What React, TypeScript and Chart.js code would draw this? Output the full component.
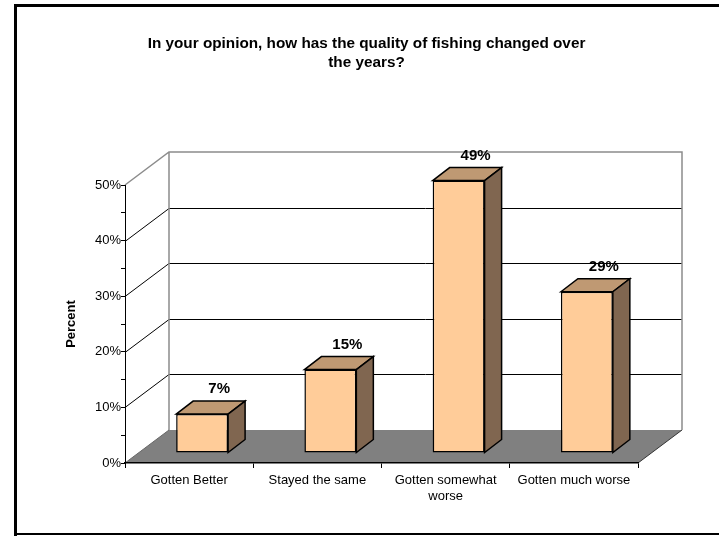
import React, { useEffect, useRef } from 'react';
import { Chart, registerables } from 'chart.js';

Chart.register(...registerables);

// ---- data ----
const categories: (string | string[])[] = [
  'Gotten Better',
  'Stayed the same',
  ['Gotten somewhat', 'worse'],
  'Gotten much worse',
];
const values = [7, 15, 49, 29];
const yTickLabels = [0, 10, 20, 30, 40, 50];
const titleLines = ['In your opinion, how has the quality of fishing changed over', 'the years?'];
const yAxisTitle = 'Percent';

// ---- 3D geometry / style ----
const WALL = { dx: 44, dy: -33 };
const FACE = { dx: 13, dy: -10 };
const DEPTH = { dx: 17, dy: -13 };
const FRONT = '#FFCC99';
const TOP = '#BF9973';
const SIDE = '#806650';
const FLOOR = '#808080';
const WALL_EDGE = '#8c8c8c';
const FONT = "'Liberation Sans', Arial, sans-serif";

const threeD = {
  id: 'threeD',
  beforeDraw(chart: any) {
    const { ctx, chartArea: a, scales } = chart;
    const y = scales.y;
    ctx.save();
    // outer frame
    ctx.fillStyle = '#000';
    ctx.fillRect(14, 4, 705, 3);
    ctx.fillRect(14, 4, 3, 532);
    ctx.fillRect(14, 533, 705, 2);

    const y0 = y.getPixelForValue(y.min);
    const yTop = y.getPixelForValue(y.max);
    const bl = a.left + WALL.dx;
    const br = a.right + WALL.dx;

    // floor
    ctx.fillStyle = FLOOR;
    ctx.beginPath();
    ctx.moveTo(a.left, y0);
    ctx.lineTo(a.right, y0);
    ctx.lineTo(br, y0 + WALL.dy);
    ctx.lineTo(bl, y0 + WALL.dy);
    ctx.closePath();
    ctx.fill();
    ctx.strokeStyle = '#333';
    ctx.lineWidth = 1;
    ctx.beginPath();
    ctx.moveTo(a.right, y0);
    ctx.lineTo(br, y0 + WALL.dy);
    ctx.stroke();

    // gridlines on the side wall and back wall
    ctx.strokeStyle = '#000';
    ctx.lineWidth = 1;
    yTickLabels.forEach((v) => {
      if (v === y.min || v === y.max) return;
      const py = Math.round(y.getPixelForValue(v)) + 0.5;
      ctx.beginPath();
      ctx.moveTo(a.left, py);
      ctx.lineTo(bl, py + WALL.dy);
      ctx.lineTo(br, py + WALL.dy);
      ctx.stroke();
    });

    // wall edges
    ctx.strokeStyle = WALL_EDGE;
    ctx.lineWidth = 1.5;
    ctx.beginPath();
    ctx.moveTo(a.left, yTop);
    ctx.lineTo(bl, yTop + WALL.dy);
    ctx.lineTo(br, yTop + WALL.dy);
    ctx.lineTo(br, y0 + WALL.dy);
    ctx.moveTo(bl, yTop + WALL.dy);
    ctx.lineTo(bl, y0 + WALL.dy);
    ctx.stroke();
    ctx.strokeStyle = '#666';
    ctx.lineWidth = 1;
    ctx.beginPath();
    ctx.moveTo(a.left, y0);
    ctx.lineTo(bl, y0 + WALL.dy);
    ctx.stroke();
    ctx.restore();
  },
  beforeDatasetsDraw(chart: any) {
    chart.ctx.save();
    chart.ctx.translate(FACE.dx, FACE.dy);
  },
  afterDatasetsDraw(chart: any) {
    const { ctx } = chart;
    ctx.restore();
    const meta = chart.getDatasetMeta(0);
    const data = chart.data.datasets[0].data as number[];
    ctx.save();
    ctx.lineJoin = 'miter';
    meta.data.forEach((bar: any, i: number) => {
      const p = bar.getProps(['x', 'y', 'base', 'width'], true);
      const l = p.x - p.width / 2 + FACE.dx;
      const r = p.x + p.width / 2 + FACE.dx;
      const t = p.y + FACE.dy;
      const b = p.base + FACE.dy;
      ctx.lineWidth = 1.5;
      ctx.strokeStyle = '#000';
      // top face
      ctx.fillStyle = TOP;
      ctx.beginPath();
      ctx.moveTo(l, t);
      ctx.lineTo(l + DEPTH.dx, t + DEPTH.dy);
      ctx.lineTo(r + DEPTH.dx, t + DEPTH.dy);
      ctx.lineTo(r, t);
      ctx.closePath();
      ctx.fill();
      ctx.stroke();
      // side face
      ctx.fillStyle = SIDE;
      ctx.beginPath();
      ctx.moveTo(r, t);
      ctx.lineTo(r + DEPTH.dx, t + DEPTH.dy);
      ctx.lineTo(r + DEPTH.dx, b + DEPTH.dy);
      ctx.lineTo(r, b);
      ctx.closePath();
      ctx.fill();
      ctx.stroke();
      // value label
      ctx.fillStyle = '#000';
      ctx.font = `bold 15px ${FONT}`;
      ctx.textAlign = 'center';
      ctx.textBaseline = 'middle';
      ctx.fillText(`${data[i]}%`, (l + r) / 2 + DEPTH.dx, t + DEPTH.dy - 12);
    });
    ctx.restore();
  },
};

export default function App() {
  const ref = useRef<HTMLCanvasElement>(null);
  useEffect(() => {
    if (!ref.current) return;
    Chart.defaults.font.family = FONT;
    const chart = new Chart(ref.current, {
      type: 'bar',
      data: {
        labels: categories as any,
        datasets: [
          {
            data: values,
            backgroundColor: FRONT,
            borderColor: '#000',
            borderWidth: 1.5,
            borderSkipped: false,
            categoryPercentage: 1,
            barPercentage: 0.405,
            clip: false as any,
          },
        ],
      },
      options: {
        animation: false,
        responsive: false,
        devicePixelRatio: 1,
        layout: { padding: { left: 14, top: 0, right: 0, bottom: 0 } },
        plugins: {
          legend: { display: false },
          tooltip: { enabled: false },
          title: {
            display: true,
            text: titleLines,
            color: '#000',
            font: { size: 15.3, weight: 'bold', family: FONT },
            padding: { top: 35, bottom: 113.3 },
          },
        },
        scales: {
          x: {
            offset: true,
            grid: { offset: true, drawOnChartArea: false, drawTicks: true, tickLength: 5, color: '#000' },
            border: { display: true, color: '#000', width: 1.5 },
            ticks: {
              color: '#000',
              font: { size: 13, lineHeight: 1.23, family: FONT },
              padding: 4,
              maxRotation: 0,
              autoSkip: false,
            },
            afterFit: (s: any) => {
              s.height = 73;
            },
          },
          y: {
            min: 0,
            max: 50,
            ticks: {
              stepSize: 5,
              autoSkip: false,
              color: '#000',
              padding: 0,
              font: { size: 13, family: FONT },
              callback: (v: any) => (yTickLabels.includes(Number(v)) ? `${v}%` : ''),
            },
            grid: { drawOnChartArea: false, drawTicks: true, tickLength: 4, color: '#000' },
            border: { display: true, color: '#000', width: 1 },
            title: {
              display: true,
              text: yAxisTitle,
              color: '#000',
              font: { size: 13, weight: 'bold', family: FONT },
              padding: { top: 50, bottom: 0 },
            },
            afterFit: (s: any) => {
              s.width = 111;
            },
          },
          y2: {
            position: 'right',
            display: true,
            grid: { display: false },
            ticks: { display: false },
            border: { display: false },
            afterFit: (s: any) => {
              s.width = 81;
            },
          },
        },
      } as any,
      plugins: [threeD],
    });
    return () => chart.destroy();
  }, []);
  return (
    <canvas
      ref={ref}
      width={719}
      height={536}
      style={{ position: 'fixed', left: 0, top: 0, width: 719, height: 536, background: '#fff' }}
    />
  );
}
